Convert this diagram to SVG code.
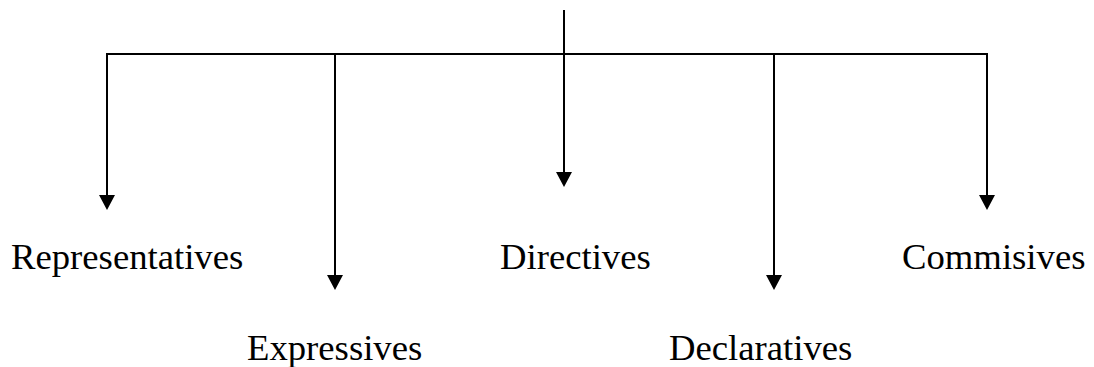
<svg xmlns="http://www.w3.org/2000/svg" width="1094" height="367" viewBox="0 0 1094 367">
  <style>
    .c { fill: none; stroke: #000; stroke-width: 2; }
    .t { font-family: "Liberation Serif", "Times New Roman", serif; font-size: 36.7px; fill: #000; }
  </style>
  <defs>
    <marker id="ah" viewBox="0 0 15 16" refX="10" refY="8" markerWidth="15" markerHeight="16" markerUnits="userSpaceOnUse" orient="auto">
      <path d="M0,0 L15,8 L0,16 Z" fill="#000"/>
    </marker>
  </defs>
  <rect width="1094" height="367" fill="#fff"/>
  <g id="connectors">
    <path class="c" d="M564,10 V54"/>
    <path class="c" d="M106,54 H988"/>
    <path class="c" d="M107,54 V205" marker-end="url(#ah)"/>
    <path class="c" d="M335,54 V285" marker-end="url(#ah)"/>
    <path class="c" d="M564,54 V182" marker-end="url(#ah)"/>
    <path class="c" d="M774,54 V285" marker-end="url(#ah)"/>
    <path class="c" d="M987,54 V205" marker-end="url(#ah)"/>
  </g>
  <g id="representatives"><text class="t" x="11" y="268.5">Representatives</text></g>
  <g id="expressives"><text class="t" x="247" y="359.5">Expressives</text></g>
  <g id="directives"><text class="t" x="500" y="268.5">Directives</text></g>
  <g id="declaratives"><text class="t" x="669" y="359.5">Declaratives</text></g>
  <g id="commisives"><text class="t" x="902" y="268.5">Commisives</text></g>
</svg>
